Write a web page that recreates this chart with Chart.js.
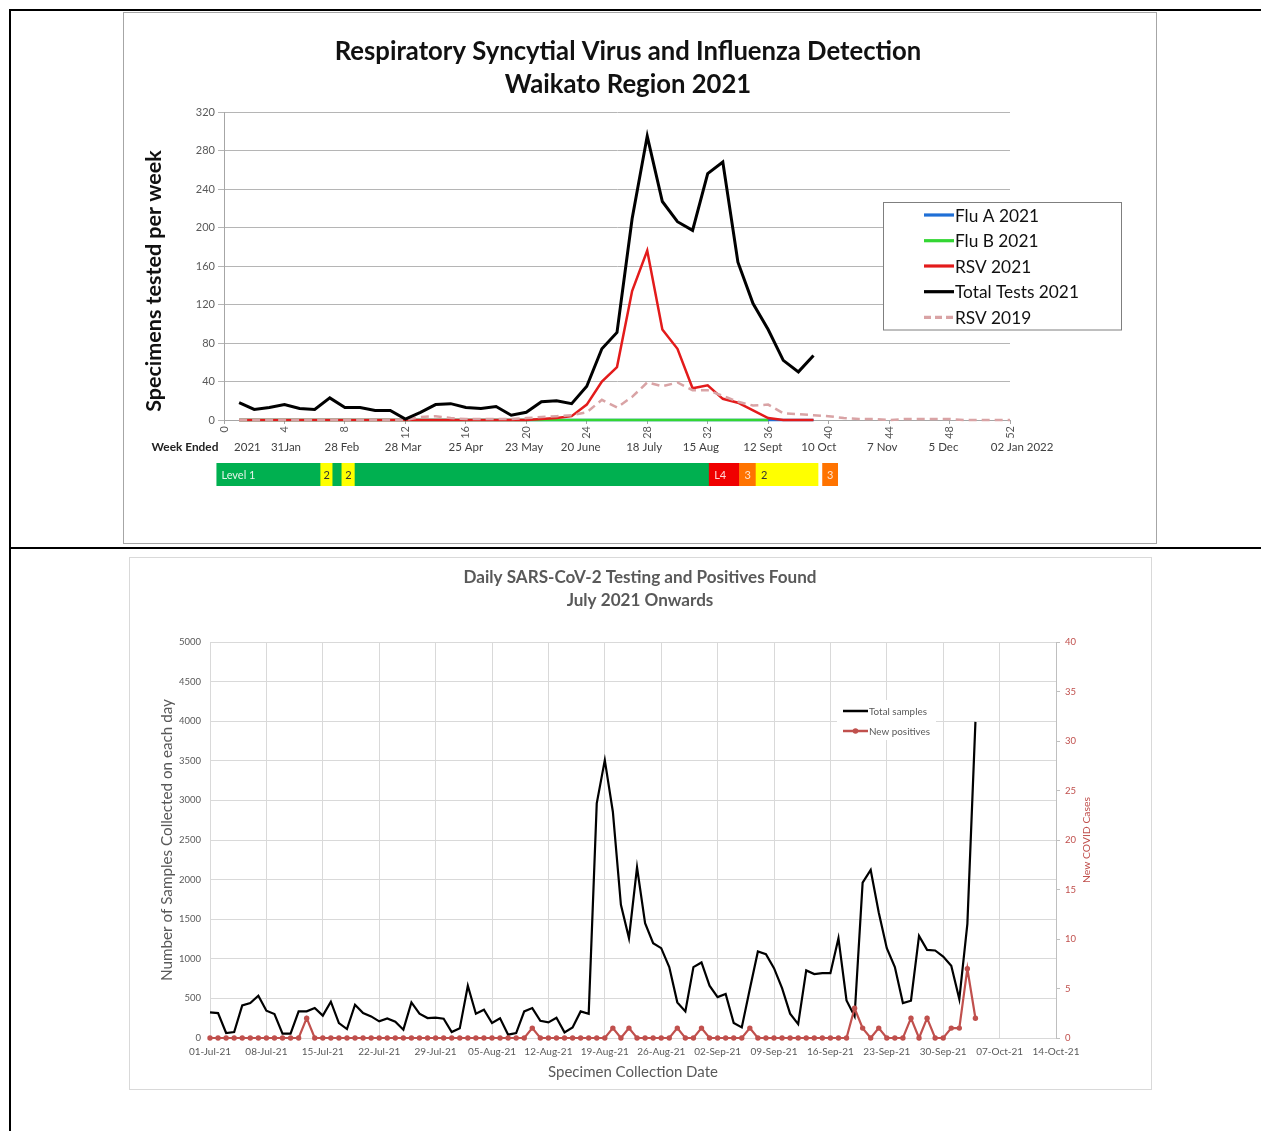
<!DOCTYPE html>
<html><head><meta charset="utf-8">
<script src="https://cdn.jsdelivr.net/npm/chart.js@4.4.0/dist/chart.umd.min.js"></script>
<style>
html,body{margin:0;padding:0;background:#fff;}
body{width:1261px;height:1131px;position:relative;overflow:hidden;}
.abs{position:absolute;}
</style></head><body>
<div class="abs" style="left:9px;top:9px;width:1252px;height:2px;background:#000"></div>
<div class="abs" style="left:9px;top:9px;width:2px;height:1122px;background:#000"></div>
<div class="abs" style="left:9px;top:547px;width:1252px;height:2px;background:#000"></div>
<div class="abs" style="left:123px;top:12px;width:1032px;height:530px;border:1px solid #A6A6A6"></div>
<canvas id="c1" class="abs" width="1032" height="530" style="left:124px;top:13px"></canvas>
<canvas id="c3" class="abs" width="1032" height="23" style="left:124px;top:463px"></canvas>
<div class="abs" style="left:129px;top:557px;width:1021px;height:531px;border:1px solid #D9D9D9"></div>
<canvas id="c2" class="abs" width="1021" height="531" style="left:130px;top:558px"></canvas>
<script>
// ---------------- DATA: top chart (weekly, 2021) ----------------
const weeks = [1,2,3,4,5,6,7,8,9,10,11,12,13,14,15,16,17,18,19,20,21,22,23,24,25,26,
  27,28,29,30,31,32,33,34,35,36,37,38,39,40,41,42,43,44,45,46,47,48,49,50,51,52];
const totalTests2021 = [18,11,13,16,12,11,23,13,13,10,10,1,8,16,17,13,12,14,5,8,
  19,20,17,35,74,91,209,295,227,206,197,256,268,164,121,94,62,50,67];
const rsv2021 = [0,0,0,0,0,0,0,0,0,0,0,0,0,0,0,0,0,0,0,0,
  1,2,4,16,40,55,134,176,94,74,33,36,22,18,10,2,0,0,0];
const fluA2021 = [0,0,0,0,0,0,0,0,0,0,0,0,0,0,0,0,0,0,0,0,
  0,0,0,0,0,0,0,0,0,0,0,0,0,0,0,0,0,0,0];
const fluB2021 = [0,0,0,0,0,0,0,0,0,0,0,0,0,0,0,0,0,0,0,0,
  0,0,0,0,0,0,0,0,0,0,0,0,0,0,0,0];
const rsv2019 = [0,0,0,0,0,0,0,0,0,0,0,0,3,4,2,1,1,1,1,2,
  3,4,5,8,21,13,24,39,35,39,31,31,25,19,15,16,7,6,5,4,2,1,1,0,1,1,1,1,0,0,0,0];
const seriesNames = ['Flu A 2021','Flu B 2021','RSV 2021','Total Tests 2021','RSV 2019'];
const weekEndedLabels = ['2021','31Jan','28 Feb','28 Mar','25 Apr','23 May','20 June',
  '18 July','15 Aug','12 Sept','10 Oct','7 Nov','5 Dec','02 Jan 2022'];
const weekEndedAt = [1.55,4.1,7.8,11.85,16.0,19.85,23.6,27.8,31.55,35.65,39.35,43.55,47.6,52.8];
// Alert levels (in weeks)
const levelStart = [-0.5,6.4,7.2,7.8,8.67,32.1,34.1,35.2,39.6];
const levelEnd   = [6.4,7.2,7.8,8.67,32.1,34.1,35.2,39.3,40.6];
const levelCode  = [1,2,1,2,1,4,3,2,3];
const levelText  = ['Level 1','2','','2','','L4','3','2','3'];

// ---------------- DATA: bottom chart (daily from 01-Jul-21) ----------------
const xTickLabels = ['01-Jul-21','08-Jul-21','15-Jul-21','22-Jul-21','29-Jul-21','05-Aug-21',
  '12-Aug-21','19-Aug-21','26-Aug-21','02-Sep-21','09-Sep-21','16-Sep-21','23-Sep-21',
  '30-Sep-21','07-Oct-21','14-Oct-21'];
const totalSamples = [323,315,63,76,412,441,534,345,303,55,
  55,336,336,378,282,458,189,113,420,315,
  273,210,248,206,105,450,307,252,256,244,
  76,122,660,307,357,189,248,42,63,336,
  378,218,197,256,71,134,336,307,2962,3508,
  2857,1681,1261,2155,1450,1197,1134,895,450,336,
  895,954,660,517,555,189,134,618,1092,1059,
  882,630,307,176,853,807,819,819,1261,475,
  275,1962,2122,1584,1134,895,441,471,1290,1113,
  1105,1029,912,492,1441,3992];
const newPositives = [0,0,0,0,0,0,0,0,0,0,
  0,0,2,0,0,0,0,0,0,0,
  0,0,0,0,0,0,0,0,0,0,
  0,0,0,0,0,0,0,0,0,0,
  1,0,0,0,0,0,0,0,0,0,
  1,0,1,0,0,0,0,0,1,0,
  0,1,0,0,0,0,0,1,0,0,
  0,0,0,0,0,0,0,0,0,0,
  3,1,0,1,0,0,0,2,0,2,
  0,0,1,1,7,2];

// ---------------- helpers ----------------
const FONT = 'Lato, "DejaVu Sans", sans-serif';
const MONTHS = ['Jan','Feb','Mar','Apr','May','Jun','Jul','Aug','Sep','Oct','Nov','Dec'];
function dayLabel(i){ const d = new Date(Date.UTC(2021,6,1+i));
  return String(d.getUTCDate()).padStart(2,'0')+'-'+MONTHS[d.getUTCMonth()]+'-21'; }
const dayLabels = []; for (let i=0;i<=105;i++) dayLabels.push(dayLabel(i));
function fitSize(ctx, text, width, weight){ ctx.font = weight+' 100px '+FONT; return 100*width/ctx.measureText(text).width; }
function drawText(ctx, t){
  ctx.save();
  const weight = t.weight || 'normal';
  const size = t.size || fitSize(ctx, t.fitText || t.text, t.fit, weight);
  ctx.font = weight+' '+size+'px '+FONT;
  ctx.fillStyle = t.color || '#000';
  ctx.textAlign = t.align || 'center';
  ctx.textBaseline = 'middle';
  ctx.translate(t.x, t.y);
  if (t.rot) ctx.rotate(t.rot);
  ctx.fillText(t.text, 0, 0);
  ctx.restore();
}
const pts = (arr) => arr.map((v,i)=>({x:weeks[i], y:v}));

// ---------------- top chart ----------------
const topColors = {total:'#000000', rsv19:'#D9A3A5', rsv21:'#E31B1B', fluB:'#33D633', fluA:'#1F6FD6'};
const topDatasets = [
  {label:seriesNames[3], data:pts(totalTests2021), borderColor:topColors.total, borderWidth:3, clip:false},
  {label:seriesNames[4], data:pts(rsv2019), borderColor:topColors.rsv19, borderWidth:2.5, borderDash:[8,5], clip:false},
  {label:seriesNames[2], data:pts(rsv2021), borderColor:topColors.rsv21, borderWidth:2.5, clip:false},
  {label:seriesNames[1], data:pts(fluB2021), borderColor:topColors.fluB, borderWidth:2.5, clip:false},
  {label:seriesNames[0], data:pts(fluA2021), borderColor:topColors.fluA, borderWidth:2.5, clip:false}
];
const legendOrder = [4,3,2,0,1];
const topPlugin = {
  id:'topTexts',
  afterDraw(chart){
    const ctx = chart.ctx;
    const s1 = fitSize(ctx, 'Respiratory Syncytial Virus and Influenza Detection', 587, 'bold');
    drawText(ctx,{text:'Respiratory Syncytial Virus and Influenza Detection', x:504, y:39, size:s1, weight:'bold', color:'#111'});
    drawText(ctx,{text:'Waikato Region 2021', x:504, y:72, size:s1, weight:'bold', color:'#111'});
    drawText(ctx,{text:'Specimens tested per week', x:30, y:268, fit:262, weight:'bold', rot:-Math.PI/2, color:'#111'});
    drawText(ctx,{text:'Week Ended', x:61, y:434, fit:67, weight:'bold', color:'#222'});
    const xs = chart.scales.x;
    weekEndedLabels.forEach((lab,i)=>{
      drawText(ctx,{text:lab, x:xs.getPixelForValue(weekEndedAt[i]), y:434, size:11.5, color:'#404040'});
    });
    // legend
    ctx.save();
    ctx.fillStyle='#fff'; ctx.fillRect(759.5,189.5,238,127.5);
    ctx.strokeStyle='#7F7F7F'; ctx.lineWidth=1; ctx.strokeRect(759.5,189.5,238,127.5);
    const ls = fitSize(ctx,'Total Tests 2021',124,'normal');
    const rows = [202,227.7,253,278.7,304.3];
    legendOrder.forEach((di,r)=>{
      const ds = chart.data.datasets[di];
      ctx.strokeStyle = ds.borderColor; ctx.lineWidth = 3.2;
      ctx.setLineDash(ds.borderDash ? [7,4] : []);
      ctx.beginPath(); ctx.moveTo(800,rows[r]); ctx.lineTo(830,rows[r]); ctx.stroke();
      ctx.setLineDash([]);
      drawText(ctx,{text:ds.label, x:831, y:rows[r]+1, size:ls, align:'left', color:'#111'});
    });
    ctx.restore();
  }
};
new Chart(document.getElementById('c1'), {
  type:'line',
  data:{datasets:topDatasets},
  options:{
    responsive:false, animation:false,
    elements:{point:{radius:0}, line:{tension:0}},
    layout:{padding:{top:99,right:146,left:0,bottom:0}},
    plugins:{legend:{display:false}, tooltip:{enabled:false}, title:{display:false}},
    scales:{
      x:{type:'linear', min:0, max:52, afterFit:(s)=>{s.height=123;},
        ticks:{stepSize:4, minRotation:90, maxRotation:90, autoSkip:false, font:{size:11,family:FONT}, color:'#595959', padding:2},
        grid:{drawOnChartArea:false, drawTicks:true, tickLength:4, color:'#A6A6A6'},
        border:{color:'#A6A6A6'}},
      y:{min:0, max:320, afterFit:(s)=>{s.width=100;},
        ticks:{stepSize:40, font:{size:11,family:FONT}, color:'#595959', padding:3},
        grid:{color:'#B5B5B5', tickLength:6},
        border:{color:'#A6A6A6'}}
    }
  },
  plugins:[topPlugin]
});

// ---------------- alert level bar ----------------
const levelColors = {1:'#00B050', 2:'#FFFF00', 3:'#FF7300', 4:'#F00000'};
const levelTextColors = {1:'#E6F5EA', 2:'#333333', 3:'#FFE3CC', 4:'#FFD6D6'};
const levelPlugin = {
  id:'levelTexts',
  afterDatasetsDraw(chart){
    const ctx = chart.ctx;
    chart.getDatasetMeta(0).data.forEach((el,i)=>{
      const t = levelText[i]; if(!t) return;
      const p = el.getProps(['x','base','y'], true);
      const left = Math.min(p.x,p.base), w = Math.abs(p.x-p.base);
      const c = levelTextColors[levelCode[i]];
      if (w < 30) drawText(ctx,{text:t, x:left+w/2, y:p.y+1, size:11, color:c});
      else drawText(ctx,{text:t, x:left+5, y:p.y+1, size:11, color:c, align:'left'});
    });
  }
};
new Chart(document.getElementById('c3'), {
  type:'bar',
  data:{labels:['Alert level'], datasets:[{
    data: levelStart.map((s,i)=>({x:[s, levelEnd[i]], y:'Alert level'})),
    backgroundColor: levelCode.map(c=>levelColors[c]),
    barPercentage:1, categoryPercentage:1, borderWidth:0, borderSkipped:false}]},
  options:{
    indexAxis:'y', responsive:false, animation:false,
    layout:{padding:{left:92.4,right:146,top:0,bottom:0}},
    plugins:{legend:{display:false}, tooltip:{enabled:false}},
    scales:{x:{type:'linear', min:-0.5, max:52, display:false}, y:{display:false}}
  },
  plugins:[levelPlugin]
});

// ---------------- bottom chart ----------------
const GREY = '#595959', BRICK = '#C0504D';
const botPlugin = {
  id:'botTexts',
  afterDraw(chart){
    const ctx = chart.ctx;
    const s = fitSize(ctx,'Daily SARS-CoV-2 Testing and Positives Found',353,'bold');
    drawText(ctx,{text:'Daily SARS-CoV-2 Testing and Positives Found', x:510, y:19, size:s, weight:'bold', color:GREY});
    drawText(ctx,{text:'July 2021 Onwards', x:510, y:42, size:s, weight:'bold', color:GREY});
    drawText(ctx,{text:'Number of Samples Collected on each day', x:37, y:282, fit:282, rot:-Math.PI/2, color:GREY});
    drawText(ctx,{text:'New COVID Cases', x:957, y:282, fit:86, rot:-Math.PI/2, color:BRICK});
    drawText(ctx,{text:'Specimen Collection Date', x:503, y:514, fit:170, color:GREY});
    // legend
    ctx.save();
    ctx.fillStyle='#fff'; ctx.fillRect(707,142,99,40);
    const ls = fitSize(ctx,'Total samples',58,'normal');
    ctx.strokeStyle='#000'; ctx.lineWidth=2.5;
    ctx.beginPath(); ctx.moveTo(713,153); ctx.lineTo(738,153); ctx.stroke();
    drawText(ctx,{text:chart.data.datasets[1].label, x:739, y:153.5, size:ls, align:'left', color:GREY});
    ctx.strokeStyle=BRICK; ctx.lineWidth=2.5;
    ctx.beginPath(); ctx.moveTo(713,173); ctx.lineTo(738,173); ctx.stroke();
    ctx.fillStyle=BRICK; ctx.beginPath(); ctx.arc(725.5,173,2.8,0,Math.PI*2); ctx.fill();
    drawText(ctx,{text:chart.data.datasets[0].label, x:739, y:173.5, size:ls, align:'left', color:GREY});
    ctx.restore();
  }
};
new Chart(document.getElementById('c2'), {
  type:'line',
  data:{labels:dayLabels, datasets:[
    {label:'New positives', data:newPositives, yAxisID:'y1', borderColor:BRICK, backgroundColor:BRICK,
      borderWidth:2.2, pointRadius:2.7, pointBorderWidth:0, pointBackgroundColor:BRICK, tension:0, clip:false},
    {label:'Total samples', data:totalSamples, yAxisID:'y', borderColor:'#000', borderWidth:2.2, pointRadius:0, tension:0, clip:false}
  ]},
  options:{
    responsive:false, animation:false,
    layout:{padding:{top:84,right:0,left:0,bottom:0}},
    plugins:{legend:{display:false}, tooltip:{enabled:false}, title:{display:false}},
    scales:{
      x:{type:'category', afterFit:(s)=>{s.height=51;},
        ticks:{autoSkip:false, maxRotation:0, minRotation:0, font:{size:10,family:FONT}, color:GREY, padding:8,
          callback:(v,i)=> (i%7===0 ? dayLabels[i] : null)},
        grid:{color:'#D9D9D9', drawTicks:false}, border:{color:'#D9D9D9'}},
      y:{position:'left', min:0, max:5000, afterFit:(s)=>{s.width=80;},
        ticks:{stepSize:500, font:{size:9.5,family:FONT}, color:GREY, padding:9, callback:(v)=>String(v)},
        grid:{color:'#D9D9D9', drawTicks:false}, border:{display:false}},
      y1:{position:'right', min:0, max:40, afterFit:(s)=>{s.width=95;},
        ticks:{stepSize:5, font:{size:9.5,family:FONT}, color:BRICK, padding:5, callback:(v)=>String(v)},
        grid:{drawOnChartArea:false, color:'#BFBFBF', tickLength:4}, border:{color:'#BFBFBF'}}
    }
  },
  plugins:[botPlugin]
});
</script>
</body></html>
